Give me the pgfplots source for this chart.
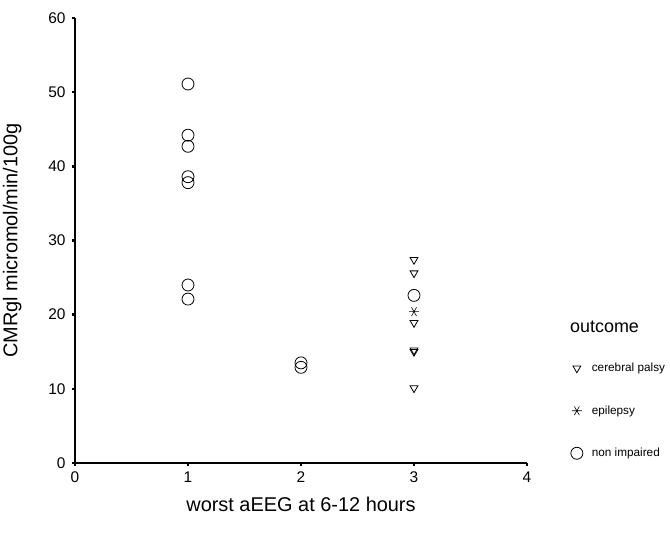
\documentclass[border=0pt]{standalone}
\usepackage{fontspec}
\setmainfont{Liberation Sans}
\usepackage{pgfplots}
\pgfplotsset{compat=1.18}

\begin{document}
\begin{tikzpicture}
\useasboundingbox (0,0) rectangle (670bp,542bp);
\begin{axis}[
  at={(75bp,79bp)}, anchor=south west,
  scale only axis, width=452bp, height=445bp,
  xmin=0, xmax=4, ymin=0, ymax=60,
  clip=false,
  axis lines*=left,
  axis line style={line width=1.2bp, -},
  xtick={0,1,2,3,4}, ytick={0,10,...,60},
  tick align=outside, major tick length=3bp,
  tick style={line width=2.5bp, black},
  ticklabel style={font=\fontsize{15.5}{18}\selectfont},
  yticklabel style={xshift=-3bp},
  xticklabel style={yshift=-2bp},
  /pgf/number format/assume math mode=true,
  xlabel={worst aEEG at 6-12 hours},
  ylabel={CMRgl micromol/min/100g},
  label style={font=\fontsize{20}{24}\selectfont},
  xlabel style={at={(axis description cs:0.5,-0.094)}, anchor=center},
  ylabel style={at={(axis description cs:-0.139,0.5)}, anchor=center},
  legend style={draw=none, fill=none, at={(rel axis cs:1.09,0.2335)}, anchor=north west,
    font=\fontsize{11.8}{14}\selectfont, row sep=28.5bp,
    /tikz/every odd column/.append style={column sep=7bp}},
  legend cell align=left,
]
% cerebral palsy
\addplot[only marks, mark=triangle, mark size=4.5bp,
  mark options={rotate=180, black, line width=0.8bp, fill=none}] coordinates {
  (3,27.4) (3,25.6) (3,18.9) (3,15.2) (3,15.0) (3,10.1)
};
\addlegendentry{cerebral palsy}
% epilepsy
\addplot[only marks, mark=asterisk, mark size=5bp,
  mark options={rotate=90, black, line width=0.6bp}] coordinates {
  (3,20.4)
};
\addlegendentry{epilepsy}
% non impaired
\addplot[only marks, mark=o, mark size=6bp,
  mark options={black, line width=0.8bp}] coordinates {
  (1,51.1) (1,44.2) (1,42.7) (1,38.6) (1,37.8) (1,24.0) (1,22.1)
  (2,13.5) (2,12.9) (3,22.6)
};
\addlegendentry{non impaired}
\node[anchor=west, font=\fontsize{18}{22}\selectfont, inner sep=0pt] at (axis cs:4.38,18.3) {outcome};
\end{axis}
\end{tikzpicture}
\end{document}
